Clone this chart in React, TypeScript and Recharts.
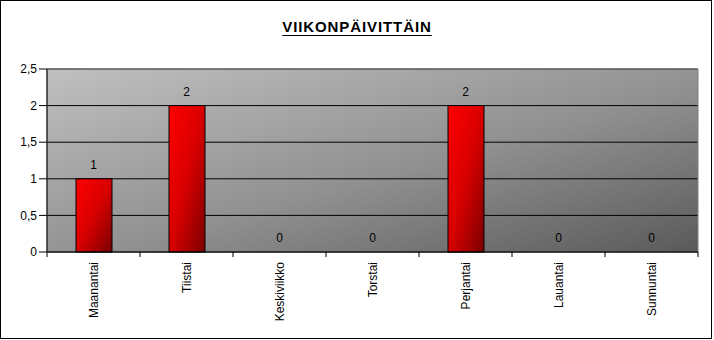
import { ComposedChart, Bar, Line, XAxis, YAxis, CartesianGrid, ReferenceArea, LabelList } from 'recharts';

const days = ['Maanantai', 'Tiistai', 'Keskiviikko', 'Torstai', 'Perjantai', 'Lauantai', 'Sunnuntai'];
const counts = [1, 2, 0, 0, 2, 0, 0];
const yTicks = [0, 0.5, 1, 1.5, 2, 2.5];

const data = days.map((day, i) => ({ day, count: counts[i] }));

const FONT = '"Liberation Sans", Arial, sans-serif';

const fmt = (v: number) => String(v).replace('.', ',');

// label pyöritetty pystyyn, tikit kategorioiden rajoilla
const DayTick = (props: any) => {
  const { x, y, payload, visibleTicksCount } = props;
  const half = payload.offset || 0;
  const axisY = y - 10;
  return (
    <g>
      <line x1={x - half} x2={x - half} y1={axisY} y2={axisY + 5} stroke="#000" />
      {payload.index === visibleTicksCount - 1 && (
        <line x1={x + half} x2={x + half} y1={axisY} y2={axisY + 5} stroke="#000" />
      )}
      <g transform={`translate(${x},${y})`}>
        <text transform="rotate(-90)" textAnchor="end" x={0} y={0} dy={4} fontSize={12} fontFamily={FONT} fill="#000">
          {payload.value}
        </text>
      </g>
    </g>
  );
};

export default function App() {
  return (
    <div style={{ position: 'absolute', left: 0, top: 0, width: 714, height: 340, background: '#fff' }}>
      <svg width={0} height={0} style={{ position: 'absolute' }}>
        <defs>
          <linearGradient id="plotBg" x1="0" y1="0" x2="1" y2="1">
            <stop offset="0%" stopColor="#c0c0c0" />
            <stop offset="55%" stopColor="#909090" />
            <stop offset="100%" stopColor="#5a5a5a" />
          </linearGradient>
          <linearGradient id="barFill" x1="0" y1="0" x2="1" y2="1">
            <stop offset="0%" stopColor="#ff0000" />
            <stop offset="50%" stopColor="#d80000" />
            <stop offset="100%" stopColor="#7a0000" />
          </linearGradient>
        </defs>
      </svg>
      <div style={{ position: 'absolute', left: 0, top: 0, width: 712, height: 339, border: '1px solid #000', boxSizing: 'border-box' }} />
      <div
        style={{
          position: 'absolute',
          top: 18,
          left: 0,
          width: 714,
          textAlign: 'center',
          fontFamily: FONT,
          fontSize: 15,
          fontWeight: 'bold',
          letterSpacing: 0.9,
          textDecoration: 'underline',
          textUnderlineOffset: 3,
          lineHeight: 'normal',
        }}
      >
        VIIKONPÄIVITTÄIN
      </div>
      <div style={{ position: 'absolute', left: 0, top: 0 }}>
        <ComposedChart width={714} height={340} data={data} margin={{ top: 69, right: 16, left: 0, bottom: 0 }} barSize={36}>
          <CartesianGrid vertical={false} stroke="#000" fill="url(#plotBg)" fillOpacity={1} />
          <ReferenceArea y1={0} y2={2.5} fill="none" stroke="#808080" />
          <XAxis
            dataKey="day"
            height={88}
            axisLine={{ stroke: '#000' }}
            tickLine={false}
            tickSize={5}
            tickMargin={5}
            interval={0}
            tick={<DayTick />}
          />
          <YAxis
            width={47}
            domain={[0, 2.5]}
            ticks={yTicks}
            tickFormatter={fmt}
            axisLine={{ stroke: '#000' }}
            tickLine={{ stroke: '#000' }}
            tickSize={8}
            tick={{ fill: '#000', fontSize: 12, fontFamily: FONT }}
          />
          <Bar dataKey="count" fill="url(#barFill)" stroke="#000" strokeWidth={1} isAnimationActive={false} />
          {/* näkymätön viiva vain arvolappuja varten, jotta myös nollat näkyvät */}
          <Line dataKey="count" stroke="none" dot={false} activeDot={false} isAnimationActive={false}>
            <LabelList dataKey="count" position="top" offset={10} fill="#000" fontSize={12} fontFamily={FONT} />
          </Line>
        </ComposedChart>
      </div>
    </div>
  );
}
